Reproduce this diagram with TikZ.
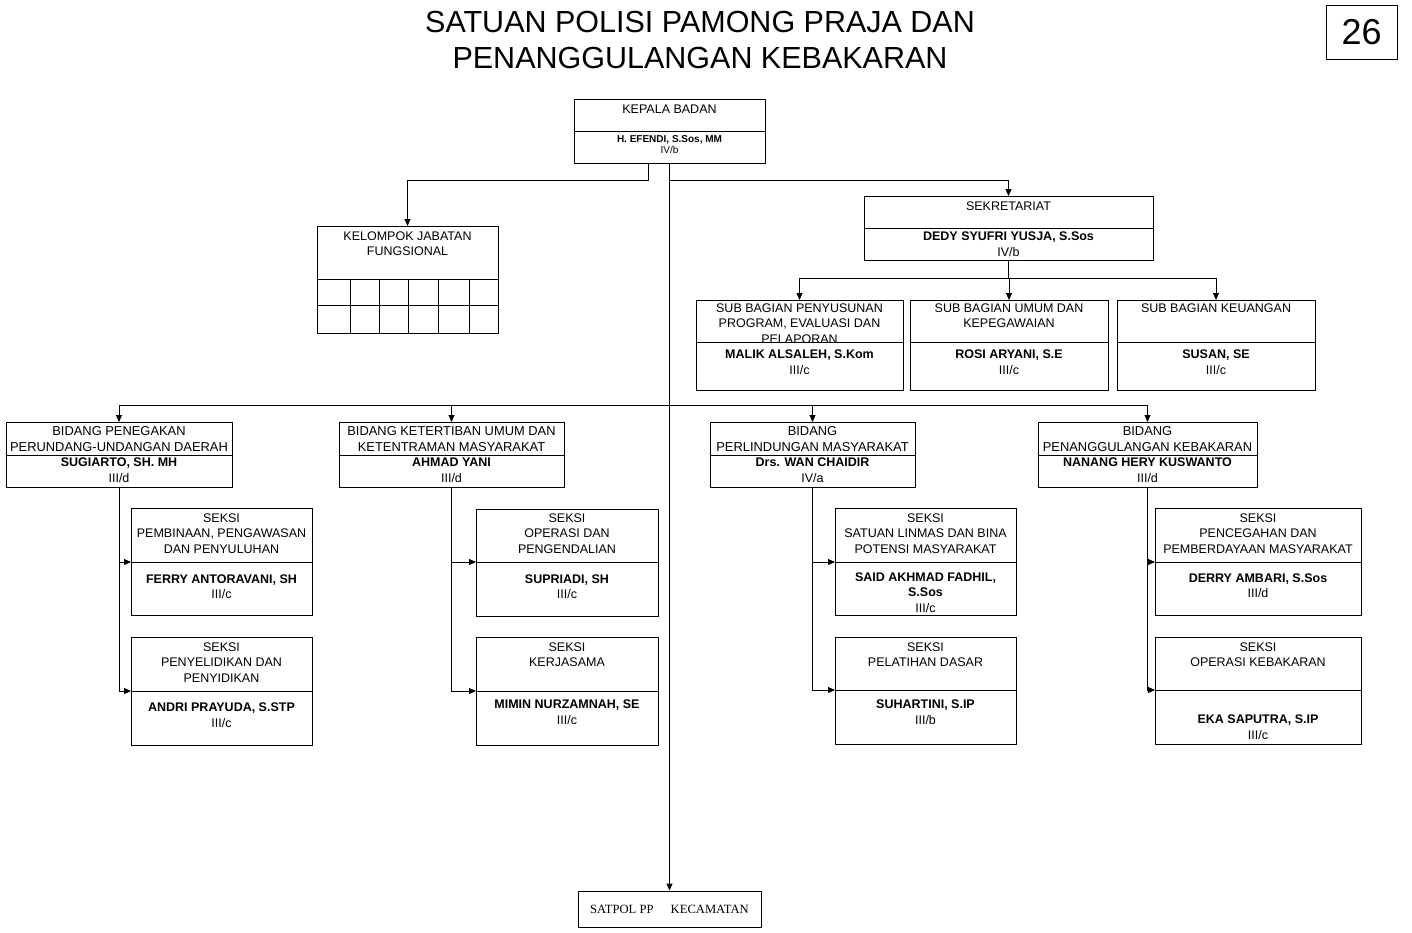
\documentclass[tikz,border=0pt]{standalone}
\usepackage{fontspec}
\setmainfont{Liberation Sans}
\newfontfamily\satpolfont{Liberation Serif}
\usepackage{tikz}
\usetikzlibrary{arrows.meta}
\usetikzlibrary{calc}

\tikzset{
	kotak/.style={draw, line width=0.9pt, anchor=north west, inner sep=0pt, outer sep=0pt},
	jabatan/.style={anchor=north, align=center, inner sep=0pt, font=\fontsize{12.5}{15.3}\selectfont},
	pejabat/.style={anchor=north, align=center, inner sep=0pt, font=\fontsize{12.5}{15.3}\selectfont},
	garis/.style={line width=0.9pt},
	panah/.style={-{Triangle[length=7pt,width=6pt]}, line width=0.9pt},
}

\begin{document}
\begin{tikzpicture}[x=1pt,y=-1pt]
\useasboundingbox (0,0) rectangle (1412,932);

% judul
\node[anchor=north, align=center, inner sep=0pt, font=\fontsize{30.5}{36}\selectfont] (judul) at (700,11) {SATUAN POLISI PAMONG PRAJA DAN\\PENANGGULANGAN KEBAKARAN};
\node[draw, line width=0.9pt, minimum width=71, minimum height=54, inner sep=0pt, font=\fontsize{36}{36}\selectfont] (hal) at (1361.5,32) {26};

% kepala badan
\node[kotak, minimum width=191, minimum height=64] (kepala) at (574,99) {};
\draw[garis] (kepala.west |- 0,131) -- (kepala.east |- 0,131);
\node[jabatan] (kepalaT) at (669.5,104.5) {KEPALA BADAN};
\node[pejabat, font=\fontsize{10}{11.8}\selectfont] (kepalaN) at (669.5,135) {\textbf{H. EFENDI, S.Sos, MM}\\IV/b};

% kelompok jabatan fungsional
\node[kotak, minimum width=181, minimum height=107] (kelompok) at (317,226) {};
\node[jabatan] (kelompokT) at (407.5,231.5) {KELOMPOK JABATAN\\FUNGSIONAL};
\draw[garis] (kelompok.west |- 0,279) -- (kelompok.east |- 0,279);
\draw[garis] (kelompok.west |- 0,305) -- (kelompok.east |- 0,305);
\draw[garis] (350,279) -- (350,0 |- kelompok.south);
\draw[garis] (379,279) -- (379,0 |- kelompok.south);
\draw[garis] (408,279) -- (408,0 |- kelompok.south);
\draw[garis] (438,279) -- (438,0 |- kelompok.south);
\draw[garis] (469,279) -- (469,0 |- kelompok.south);

% sekretariat
\node[kotak, minimum width=289, minimum height=64] (sekre) at (864,196) {};
\draw[garis] (sekre.west |- 0,228) -- (sekre.east |- 0,228);
\node[jabatan] (sekreT) at (1008.5,201.5) {SEKRETARIAT};
\node[pejabat, font=\fontsize{12.5}{16}\selectfont] (sekreN) at (1008.5,231.5) {\textbf{DEDY SYUFRI YUSJA, S.Sos}\\IV/b};

% sub bagian
\node[kotak, minimum width=207, minimum height=90] (sub1) at (696,300) {};
\node[kotak, minimum width=198, minimum height=90] (sub2) at (910,300) {};
\node[kotak, minimum width=198, minimum height=90] (sub3) at (1117,300) {};
\draw[garis] (sub1.west |- 0,342) -- (sub1.east |- 0,342);
\draw[garis] (sub2.west |- 0,342) -- (sub2.east |- 0,342);
\draw[garis] (sub3.west |- 0,342) -- (sub3.east |- 0,342);
\node[jabatan] (sub1T) at (799.5,303.5) {SUB BAGIAN PENYUSUNAN\\PROGRAM, EVALUASI DAN\\PELAPORAN};
\node[jabatan] (sub2T) at (1009,303.5) {SUB BAGIAN UMUM DAN\\KEPEGAWAIAN};
\node[jabatan] (sub3T) at (1216,303.5) {SUB BAGIAN KEUANGAN};
\node[pejabat] (sub1N) at (799.5,350) {\textbf{MALIK ALSALEH, S.Kom}\\III/c};
\node[pejabat] (sub2N) at (1009,350) {\textbf{ROSI ARYANI, S.E}\\III/c};
\node[pejabat] (sub3N) at (1216,350) {\textbf{SUSAN, SE}\\III/c};

% bidang
\node[kotak, minimum width=226, minimum height=65] (bid1) at (6,422) {};
\node[kotak, minimum width=225, minimum height=65] (bid2) at (339,422) {};
\node[kotak, minimum width=205, minimum height=65] (bid3) at (710,422) {};
\node[kotak, minimum width=219, minimum height=65] (bid4) at (1038,422) {};
\draw[garis] (bid1.west |- 0,455) -- (bid1.east |- 0,455);
\draw[garis] (bid2.west |- 0,455) -- (bid2.east |- 0,455);
\draw[garis] (bid3.west |- 0,455) -- (bid3.east |- 0,455);
\draw[garis] (bid4.west |- 0,455) -- (bid4.east |- 0,455);
\node[jabatan, font=\fontsize{12.9}{15.5}\selectfont] (bid1T) at (119,426.3) {BIDANG PENEGAKAN\\PERUNDANG-UNDANGAN DAERAH};
\node[jabatan, font=\fontsize{12.9}{15.5}\selectfont] (bid2T) at (451.5,426.3) {BIDANG KETERTIBAN UMUM DAN\\KETENTRAMAN MASYARAKAT};
\node[jabatan, font=\fontsize{12.9}{15.5}\selectfont] (bid3T) at (812.5,426.3) {BIDANG\\PERLINDUNGAN MASYARAKAT};
\node[jabatan, font=\fontsize{12.9}{15.5}\selectfont] (bid4T) at (1147.5,426.3) {BIDANG\\PENANGGULANGAN KEBAKARAN};
\node[pejabat] (bid1N) at (119,458) {\textbf{SUGIARTO, SH. MH}\\III/d};
\node[pejabat] (bid2N) at (451.5,458) {\textbf{AHMAD YANI}\\III/d};
\node[pejabat] (bid3N) at (812.5,458) {\textbf{Drs. WAN CHAIDIR}\\IV/a};
\node[pejabat] (bid4N) at (1147.5,458) {\textbf{NANANG HERY KUSWANTO}\\III/d};

% seksi bidang penegakan
\node[kotak, minimum width=181, minimum height=107] (s1a) at (131,508) {};
\node[kotak, minimum width=181, minimum height=108] (s1b) at (131,637) {};
\draw[garis] (s1a.west |- 0,562) coordinate (s1ad) -- (s1a.east |- 0,562);
\draw[garis] (s1b.west |- 0,691) coordinate (s1bd) -- (s1b.east |- 0,691);
\node[jabatan] (s1aT) at (221.5,513.5) {SEKSI\\PEMBINAAN, PENGAWASAN\\DAN PENYULUHAN};
\node[pejabat] (s1aN) at (221.5,574.5) {\textbf{FERRY ANTORAVANI, SH}\\III/c};
\node[jabatan] (s1bT) at (221.5,642.5) {SEKSI\\PENYELIDIKAN DAN\\PENYIDIKAN};
\node[pejabat] (s1bN) at (221.5,703) {\textbf{ANDRI PRAYUDA, S.STP}\\III/c};

% seksi bidang ketertiban
\node[kotak, minimum width=182, minimum height=107] (s2a) at (476,509) {};
\node[kotak, minimum width=182, minimum height=108] (s2b) at (476,637) {};
\draw[garis] (s2a.west |- 0,562) coordinate (s2ad) -- (s2a.east |- 0,562);
\draw[garis] (s2b.west |- 0,691) coordinate (s2bd) -- (s2b.east |- 0,691);
\node[jabatan] (s2aT) at (567,513.5) {SEKSI\\OPERASI DAN\\PENGENDALIAN};
\node[pejabat] (s2aN) at (567,574.5) {\textbf{SUPRIADI, SH}\\III/c};
\node[jabatan] (s2bT) at (567,642.5) {SEKSI\\KERJASAMA};
\node[pejabat] (s2bN) at (567,700) {\textbf{MIMIN NURZAMNAH, SE}\\III/c};

% seksi bidang perlindungan
\node[kotak, minimum width=181, minimum height=107] (s3a) at (835,508) {};
\node[kotak, minimum width=181, minimum height=107] (s3b) at (835,637) {};
\draw[garis] (s3a.west |- 0,562) coordinate (s3ad) -- (s3a.east |- 0,562);
\draw[garis] (s3b.west |- 0,690) coordinate (s3bd) -- (s3b.east |- 0,690);
\node[jabatan] (s3aT) at (925.5,513.5) {SEKSI\\SATUAN LINMAS DAN BINA\\POTENSI MASYARAKAT};
\node[pejabat] (s3aN) at (925.5,572.7) {\textbf{SAID AKHMAD FADHIL,}\\\textbf{S.Sos}\\III/c};
\node[jabatan] (s3bT) at (925.5,642.5) {SEKSI\\PELATIHAN DASAR};
\node[pejabat] (s3bN) at (925.5,700) {\textbf{SUHARTINI, S.IP}\\III/b};

% seksi bidang kebakaran
\node[kotak, minimum width=206, minimum height=107] (s4a) at (1155,508) {};
\node[kotak, minimum width=206, minimum height=107] (s4b) at (1155,637) {};
\draw[garis] (s4a.west |- 0,562) coordinate (s4ad) -- (s4a.east |- 0,562);
\draw[garis] (s4b.west |- 0,690) coordinate (s4bd) -- (s4b.east |- 0,690);
\node[jabatan] (s4aT) at (1258,513.5) {SEKSI\\PENCEGAHAN DAN\\PEMBERDAYAAN MASYARAKAT};
\node[pejabat] (s4aN) at (1258,573.5) {\textbf{DERRY AMBARI, S.Sos}\\III/d};
\node[jabatan] (s4bT) at (1258,642.5) {SEKSI\\OPERASI KEBAKARAN};
\node[pejabat] (s4bN) at (1258,715) {\textbf{EKA SAPUTRA, S.IP}\\III/c};

% satpol pp kecamatan
\node[draw, line width=0.9pt, minimum width=183, minimum height=36, inner sep=0pt, font=\satpolfont\fontsize{12.6}{14}\selectfont] (satpol) at (669.5,909) {SATPOL PP\hspace{14pt} KECAMATAN};

% garis komando
\coordinate (cabang) at (kepala.south |- 0,180);
\coordinate (sbus) at (sekre.south |- 0,278);
\coordinate (bbus) at (kepala.south |- 0,405);
\draw[panah] ([xshift=-21.5pt]kepala.south) -- ++(0,17) -| (kelompok.north);
\draw[panah] (kepala.south) -- (satpol.north);
\draw[panah] (cabang) -| (sekre.north);
\draw[garis] (sekre.south) -- (sbus);
\draw[panah] (sbus) -| (sub1.north);
\draw[panah] (sbus) -| (sub2.north);
\draw[panah] (sbus) -| (sub3.north);
\draw[panah] (bbus) -| (bid1.north);
\draw[panah] (bbus) -| (bid2.north);
\draw[panah] (bbus) -| (bid3.north);
\draw[panah] (bbus) -| (bid4.north);
\draw[panah] (bid1.south) |- (s1ad);
\draw[panah] (bid1.south) |- (s1bd);
\draw[panah] (bid2.south) |- (s2ad);
\draw[panah] (bid2.south) |- (s2bd);
\draw[panah] (bid3.south) |- (s3ad);
\draw[panah] (bid3.south) |- (s3bd);
\draw[panah] (bid4.south) |- (s4ad);
\draw[panah] (bid4.south) |- (s4bd);
\end{tikzpicture}
\end{document}
